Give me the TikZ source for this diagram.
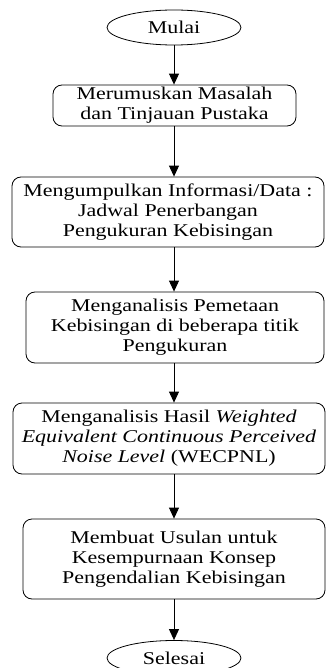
\documentclass[tikz,border=0pt]{standalone}
\usepackage{fontspec}
\setmainfont{Liberation Serif}[FakeStretch=1.22]
\usetikzlibrary{shapes.geometric,arrows.meta,calc}
\begin{document}
\begin{tikzpicture}[x=1pt,y=1pt,
  every node/.style={font=\fontsize{18}{20}\selectfont},
  term/.style={draw,line width=0.8pt,ellipse,minimum width=134pt,minimum height=35pt,inner sep=0pt},
  proc/.style={draw,line width=0.8pt,rounded corners=9pt,inner sep=0pt,align=center},
  arr/.style={line width=0.9pt,-{Triangle[length=11pt,width=10pt]}}]
\useasboundingbox (0,0) rectangle (326,-668);
\node[term] (start) at (174,-27.5) {Mulai};
\node[proc,minimum width=243pt,minimum height=41pt] (b1) at (174.5,-105.5) {Merumuskan Masalah\\dan Tinjauan Pustaka};
\node[proc,minimum width=312pt,minimum height=70pt] (b2) at (168,-212) {Mengumpulkan Informasi/Data :\\Jadwal Penerbangan\\Pengukuran Kebisingan};
\node[proc,minimum width=298pt,minimum height=71pt] (b3) at (175,-327.5) {Menganalisis Pemetaan\\Kebisingan di beberapa titik\\Pengukuran};
\node[proc,minimum width=312pt,minimum height=71pt] (b4) at (169,-438.5) {Menganalisis Hasil \textit{Weighted}\\\textit{Equivalent Continuous Perceived}\\\textit{Noise Level} (WECPNL)};
\node[proc,minimum width=302pt,minimum height=80pt] (b5) at (174,-559) {Membuat Usulan untuk\\Kesempurnaan Konsep\\Pengendalian Kebisingan};
\node[term] (end) at (174,-658) {Selesai};
\coordinate (ax) at (174,0);
\draw[arr] (start) -- (b1.north -| ax);
\draw[arr] (b1.south -| ax) -- (b2.north -| ax);
\draw[arr] (b2.south -| ax) -- (b3.north -| ax);
\draw[arr] (b3.south -| ax) -- (b4.north -| ax);
\draw[arr] (b4.south -| ax) -- (b5.north -| ax);
\draw[arr] (b5.south -| ax) -- (end);
\end{tikzpicture}
\end{document}
